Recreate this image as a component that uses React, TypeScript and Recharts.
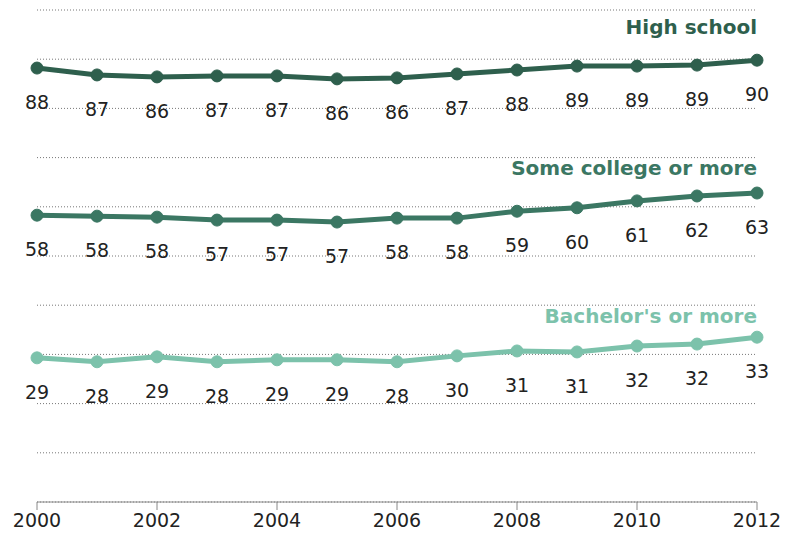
import { LineChart, Line, XAxis, YAxis, CartesianGrid, LabelList } from 'recharts';

const YEARS = [2000, 2001, 2002, 2003, 2004, 2005, 2006, 2007, 2008, 2009, 2010, 2011, 2012];
const HIGH_SCHOOL = [88.2, 86.8, 86.4, 86.6, 86.6, 86.0, 86.2, 87.0, 87.8, 88.6, 88.6, 88.8, 89.8];
const SOME_COLLEGE = [58.3, 58.1, 57.9, 57.3, 57.3, 56.9, 57.7, 57.7, 59.1, 59.8, 61.2, 62.2, 62.8];
const BACHELORS = [29.3, 28.5, 29.5, 28.5, 28.9, 28.9, 28.5, 29.7, 30.7, 30.5, 31.7, 32.1, 33.5];
const HS_LABELS = [88, 87, 86, 87, 87, 86, 86, 87, 88, 89, 89, 89, 90];
const SC_LABELS = [58, 58, 58, 57, 57, 57, 58, 58, 59, 60, 61, 62, 63];
const BA_LABELS = [29, 28, 29, 28, 29, 29, 28, 30, 31, 31, 32, 32, 33];
const X_TICKS = [2000, 2002, 2004, 2006, 2008, 2010, 2012];
const Y_TICKS = [0, 10, 20, 30, 40, 50, 60, 70, 80, 90, 100];

const data = YEARS.map((year, i) => ({
  year,
  hs: HIGH_SCHOOL[i],
  sc: SOME_COLLEGE[i],
  ba: BACHELORS[i],
}));

const SERIES = [
  { key: 'hs', name: 'High school', color: '#2e5f4d', labels: HS_LABELS, nameDy: -26 },
  { key: 'sc', name: 'Some college or more', color: '#3b7763', labels: SC_LABELS, nameDy: -18 },
  { key: 'ba', name: "Bachelor's or more", color: '#7cc2ab', labels: BA_LABELS, nameDy: -14 },
];

const FONT = '"DejaVu Sans", Verdana, sans-serif';

function makeLabel(labels: number[], name: string, color: string, nameDy: number) {
  return (props: any) => {
    const { x, y, index } = props;
    return (
      <g>
        <text x={x} y={y + 41} textAnchor="middle" fontSize={19} fill="#222" fontFamily={FONT}>
          {labels[index]}
        </text>
        {index === labels.length - 1 && (
          <text x={x} y={y + nameDy} textAnchor="end" fontSize={20} fontWeight="bold" fill={color} fontFamily={FONT}>
            {name}
          </text>
        )}
      </g>
    );
  };
}

export default function App() {
  return (
    <div style={{ margin: -8, width: 790, height: 542, background: '#fff' }}>
      <LineChart width={790} height={542} data={data} margin={{ top: 10, right: 33, left: 37, bottom: 10 }}>
        <CartesianGrid vertical={false} strokeDasharray="1 2" stroke="#777" />
        <YAxis hide domain={[0, 100]} ticks={Y_TICKS} />
        <XAxis
          dataKey="year"
          type="number"
          domain={[2000, 2012]}
          ticks={X_TICKS}
          tickSize={8}
          stroke="#888"
          tick={{ fontSize: 19, fill: '#222', fontFamily: FONT }}
          tickMargin={4}
        />
        {SERIES.map((s) => (
          <Line
            key={s.key}
            dataKey={s.key}
            stroke={s.color}
            strokeWidth={5}
            dot={{ r: 6, fill: s.color, stroke: s.color, strokeWidth: 1 }}
            isAnimationActive={false}
          >
            <LabelList dataKey={s.key} content={makeLabel(s.labels, s.name, s.color, s.nameDy)} />
          </Line>
        ))}
      </LineChart>
    </div>
  );
}
